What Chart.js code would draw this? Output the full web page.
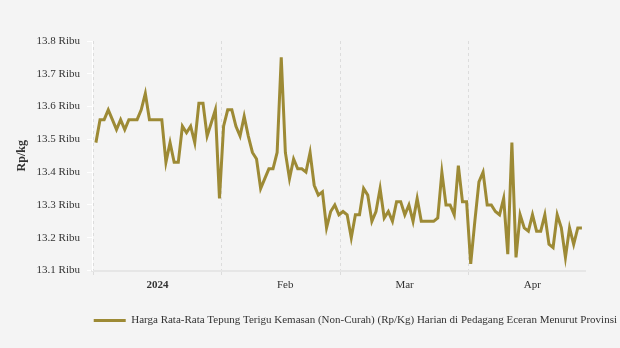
<!DOCTYPE html>
<html>
<head>
<meta charset="utf-8">
<script src="https://cdn.jsdelivr.net/npm/chart.js@4.4.1/dist/chart.umd.min.js"></script>
<style>
  html, body { margin: 0; padding: 0; background: #f4f4f4; }
  #wrap { width: 620px; height: 348px; }
</style>
</head>
<body>
<div id="wrap"><canvas id="c" width="620" height="348"></canvas></div>
<script>
// Daily values (Rp/kg), one per day starting 2024-01-01
const startDate = '2024-01-01';
const prices = [
  13490, 13560, 13560, 13590, 13560, 13530, 13560, 13530, 13560, 13560,
  13560, 13590, 13640, 13560, 13560, 13560, 13560, 13430, 13490, 13430,
  13430, 13540, 13520, 13540, 13490, 13610, 13610, 13510, 13550, 13590,
  13320, 13540, 13590, 13590, 13540, 13510, 13570, 13510, 13460, 13440,
  13350, 13380, 13410, 13410, 13460, 13750, 13460, 13380, 13440, 13410,
  13410, 13400, 13460, 13360, 13330, 13340, 13230, 13280, 13300, 13270,
  13280, 13270, 13200, 13270, 13270, 13350, 13330, 13250, 13280, 13350,
  13260, 13280, 13250, 13310, 13310, 13270, 13300, 13250, 13320, 13250,
  13250, 13250, 13250, 13260, 13400, 13300, 13300, 13270, 13420, 13310,
  13310, 13120, 13250, 13370, 13400, 13300, 13300, 13280, 13270, 13320,
  13150, 13490, 13140, 13270, 13230, 13220, 13270, 13220, 13220, 13270,
  13180, 13170, 13270, 13230, 13140, 13230, 13180, 13230, 13230
];
// Observations are taken around mid-day (fraction of a day after midnight)
const sampleTimeOfDay = 0.55;
// Month boundaries (day offsets from startDate) and their labels
const monthStarts = [0, 31, 60, 91];
const monthLabelDays = [15.5, 46.5, 75.5, 106.5];
const monthLabels = ['2024', 'Feb', 'Mar', 'Apr'];
const yTicks = [13100, 13200, 13300, 13400, 13500, 13600, 13700, 13800];
const seriesName = 'Harga Rata-Rata Tepung Terigu Kemasan (Non-Curah) (Rp/Kg) Harian di Pedagang Eceran Menurut Provinsi';

const lineColor = '#9d8a35';
const FONT = '"Liberation Serif", "Times New Roman", serif';

const points = prices.map((v, i) => ({ x: i + sampleTimeOfDay, y: v }));

new Chart(document.getElementById('c'), {
  type: 'line',
  data: {
    datasets: [{
      label: seriesName,
      data: points,
      borderColor: lineColor,
      backgroundColor: lineColor,
      borderWidth: 3,
      pointRadius: 0,
      tension: 0
    }]
  },
  options: {
    responsive: false,
    devicePixelRatio: 1,
    animation: false,
    layout: { padding: { top: 41, left: 0, right: 0, bottom: 12 } },
    plugins: {
      tooltip: { enabled: false },
      legend: {
        position: 'bottom',
        align: 'end',
        labels: {
          boxWidth: 32,
          boxHeight: 3,
          padding: 3,
          color: '#333333',
          font: { family: FONT, size: 11 },
          generateLabels: (chart) => {
            const items = Chart.defaults.plugins.legend.labels.generateLabels(chart);
            items.forEach((it) => { it.lineWidth = 0; it.strokeStyle = 'rgba(0,0,0,0)'; });
            return items;
          }
        }
      }
    },
    scales: {
      x: {
        type: 'linear',
        min: -0.4,
        max: 119.3,
        afterBuildTicks: (scale) => {
          const t = [];
          monthStarts.forEach((d) => t.push({ value: d }));
          monthLabelDays.forEach((d) => t.push({ value: d }));
          t.sort((a, b) => a.value - b.value);
          scale.ticks = t;
        },
        afterFit: (scale) => { scale.height = 41.5; },
        ticks: {
          autoSkip: false,
          maxRotation: 0,
          padding: 3,
          color: '#333333',
          font: (ctx) => ({
            family: FONT,
            size: 11,
            weight: (ctx.tick && ctx.tick.value === monthLabelDays[0]) ? 'bold' : 'normal'
          }),
          callback: (v) => {
            const i = monthLabelDays.indexOf(v);
            return i >= 0 ? monthLabels[i] : '';
          }
        },
        grid: {
          drawOnChartArea: true,
          tickLength: 5,
          color: (ctx) => (ctx.tick && monthStarts.includes(ctx.tick.value)) ? '#dcdcdc' : 'rgba(0,0,0,0)',
          lineWidth: 1,
          tickBorderDash: [3, 3]
        },
        border: { display: true, color: '#e6e6e6', width: 2, dash: [3, 3] }
      },
      y: {
        position: 'left',
        min: 13100,
        max: 13800,
        afterBuildTicks: (scale) => { scale.ticks = yTicks.map((v) => ({ value: v })); },
        afterFit: (scale) => { scale.width = 92; },
        ticks: {
          padding: 7,
          color: '#333333',
          font: { family: FONT, size: 11 },
          callback: (v) => (v / 1000).toFixed(1) + ' Ribu'
        },
        grid: {
          drawOnChartArea: false,
          tickLength: 5,
          color: '#ffffff'
        },
        border: { display: true, color: '#ffffff', width: 1 },
        title: {
          display: true,
          text: 'Rp/kg',
          color: '#333333',
          font: { family: FONT, size: 12, weight: 'bold' },
          padding: { top: 15, bottom: 0 }
        }
      },
      yRight: {
        position: 'right',
        display: true,
        afterFit: (scale) => { scale.width = 35; },
        ticks: { display: false },
        grid: { display: false, drawOnChartArea: false },
        border: { display: false }
      }
    }
  }
});
</script>
</body>
</html>
